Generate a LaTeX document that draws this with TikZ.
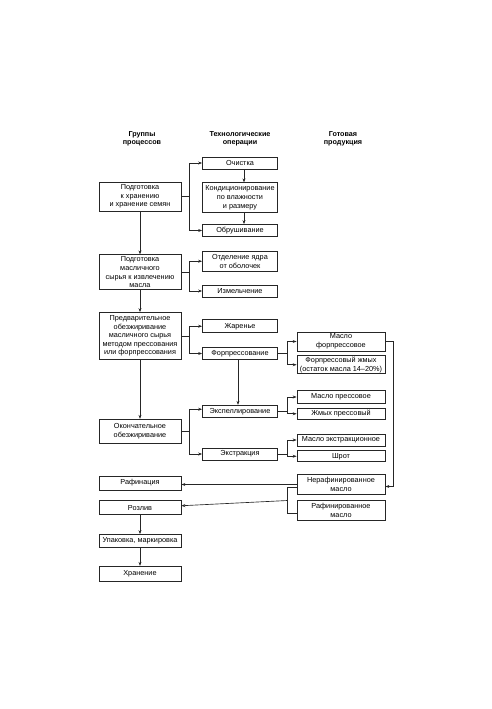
\documentclass[tikz,border=0pt]{standalone}
\usepackage{fontspec}
\setmainfont{Liberation Sans}
\usetikzlibrary{positioning,arrows.meta}

\newcommand{\boxfont}{\fontsize{7.3}{8.6}\selectfont}
\newcommand{\headfont}{\fontsize{7.2}{8.4}\selectfont\bfseries}

\tikzset{
  box/.style={draw=black!85, line width=0.75pt, inner sep=1pt, align=center, font=\boxfont},
  gbox/.style={box, minimum width=82pt},
  obox/.style={box, minimum width=75pt},
  pbox/.style={box, minimum width=88pt},
  head/.style={align=center, font=\headfont, inner sep=0pt},
  link/.style={draw=black!85, line width=0.65pt, -{Stealth[length=4pt,width=3pt]}},
  fork/.style={draw=black!85, line width=0.65pt}
}

\begin{document}
\begin{tikzpicture}[x=1pt, y=-1pt]
  \useasboundingbox (0,0) rectangle (491,709);

  % Headers
  \node[head] (hgroups) at (142,139) {Группы\\процессов};
  \node[head] (hops) at (240,139) {Технологические\\операции};
  \node[head] (hprod) at (343,139) {Готовая\\продукция};

  % Groups of processes
  \node[gbox, minimum height=29pt] (prep) at (140,196.5) {Подготовка\\к хранению\\и хранение семян};
  \node[gbox, minimum height=35pt, below=43pt of prep] (raw) {Подготовка\\масличного\\сырья к извлечению\\масла};
  \node[gbox, minimum height=47pt, below=22pt of raw] (predef) {Предварительное\\обезжиривание\\масличного сырья\\методом прессования\\или форпрессования};
  \node[gbox, minimum height=24pt, below=59pt of predef] (final) {Окончательное\\обезжиривание};
  \node[gbox, minimum height=14pt, below=32pt of final] (refin) {Рафинация};
  \node[gbox, minimum height=14pt, below=10pt of refin] (bottle) {Розлив};
  \node[gbox, minimum height=13pt, below=19pt of bottle] (pack) {Упаковка, маркировка};
  \node[gbox, minimum height=15pt, below=18pt of pack] (store) {Хранение};

  % Operations
  \node[obox, minimum height=12pt] (clean) at (240,163) {Очистка};
  \node[obox, minimum height=30pt, below=13pt of clean] (cond) {Кондиционирование\\по влажности\\и размеру};
  \node[obox, minimum height=12pt, below=11pt of cond] (hull) {Обрушивание};
  \node[obox, minimum height=20pt, below=14pt of hull] (sep) {Отделение ядра\\от оболочек};
  \node[obox, minimum height=12pt, below=13pt of sep] (grind) {Измельчение};
  \node[obox, minimum height=13pt, below=22pt of grind] (roast) {Жаренье};
  \node[obox, minimum height=12pt, below=14pt of roast] (prepress) {Форпрессование};
  \node[obox, minimum height=12pt, below=45pt of prepress] (expel) {Экспеллирование};
  \node[obox, minimum height=12pt, below=30pt of expel] (extr) {Экстракция};

  % Products
  \node[pbox, minimum height=19pt] (oilpre) at (341,341.5) {Масло\\форпрессовое};
  \node[pbox, minimum height=18pt, below=4pt of oilpre] (cakepre) {Форпрессовый жмых\\(остаток масла 14--20\%)};
  \node[pbox, minimum height=13pt, below=16pt of cakepre] (oilpress) {Масло прессовое};
  \node[pbox, minimum height=11pt, below=4pt of oilpress] (cakepress) {Жмых прессовый};
  \node[pbox, minimum height=12pt, below=14pt of cakepress] (oilextr) {Масло экстракционное};
  \node[pbox, minimum height=11pt, below=4pt of oilextr] (meal) {Шрот};
  \node[pbox, minimum height=20pt, below=12pt of meal] (unref) {Нерафинированное\\масло};
  \node[pbox, minimum height=20pt, below=5pt of unref] (ref) {Рафинированное\\масло};
  \coordinate[below left=16pt and 9pt of unref.west] (mix);

  % Main line
  \draw[link] (prep) -- (raw);
  \draw[link] (raw) -- (predef);
  \draw[link] (predef) -- (final);
  \draw[link] (bottle) -- (pack);
  \draw[link] (pack) -- (store);
  \draw[link] ([xshift=4pt]clean.south) -- ([xshift=4pt]cond.north);
  \draw[link] ([xshift=4pt]cond.south) -- ([xshift=4pt]hull.north);
  \draw[link] ([xshift=-2pt]prepress.south) -- ([xshift=-2pt]expel.north);

  % Forks
  \draw[link] (prep.east) -- ++(8,0) |- (clean.west);
  \draw[link] (prep.east) -- ++(8,0) |- (hull.west);
  \draw[link] (raw.east) -- ++(8,0) |- (sep.west);
  \draw[link] (raw.east) -- ++(8,0) |- (grind.west);
  \draw[link] (predef.east) -- ++(8,0) |- (roast.west);
  \draw[link] (predef.east) -- ++(8,0) |- (prepress.west);
  \draw[link] (final.east) -- ++(8,0) |- ([yshift=2pt]expel.west);
  \draw[link] (final.east) -- ++(8,0) |- (extr.west);
  \draw[link] (prepress.east) -- ++(9,0) |- (oilpre.west);
  \draw[link] (prepress.east) -- ++(9,0) |- (cakepre.west);
  \draw[link] (expel.east) -- ++(9,0) |- (oilpress.west);
  \draw[link] (expel.east) -- ++(9,0) |- (cakepress.west);
  \draw[link] (extr.east) -- ++(9,0) |- (oilextr.west);
  \draw[link] (extr.east) -- ++(9,0) |- (meal.west);

  % Oil
  \draw[link] (oilpre.east) -- ++(8,0) |- ([yshift=-2pt]unref.east);
  \draw[link] (unref.west) -- (unref.west -| refin.east);
  \draw[fork] ([yshift=-3pt]unref.west) -| (mix) |- ([yshift=-3pt]ref.west);
  \draw[link] (mix) -- ([yshift=2pt]bottle.east);
\end{tikzpicture}
\end{document}
